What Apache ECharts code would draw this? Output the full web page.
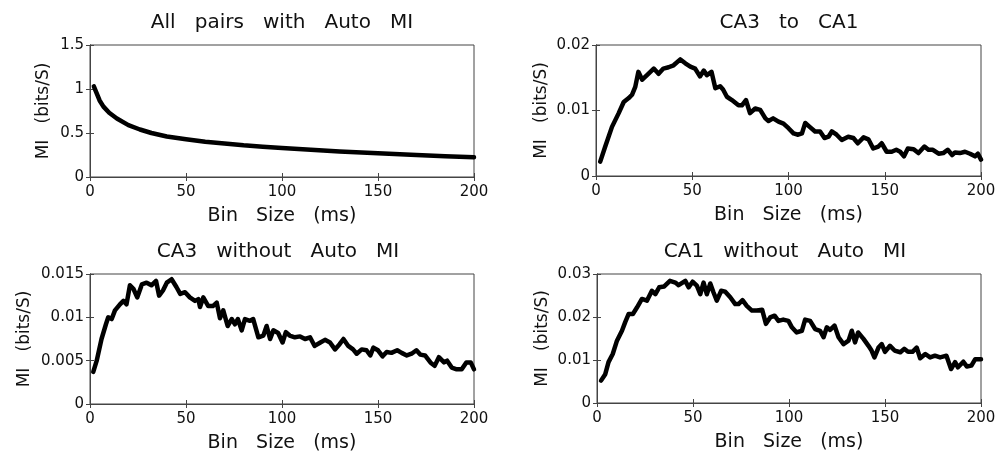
<!DOCTYPE html>
<html>
<head>
<meta charset="utf-8">
<script src="https://cdn.jsdelivr.net/npm/echarts@6/dist/echarts.min.js"></script>
<style>
  html, body { margin: 0; padding: 0; background: #fff; }
  #chart { width: 1005px; height: 458px; }
</style>
</head>
<body>
<div id="chart"></div>
<script>
// panel titles
var titles = ['All   pairs   with   Auto   MI', 'CA3   to   CA1', 'CA3   without   Auto   MI', 'CA1   without   Auto   MI'];

// All pairs with Auto MI
var allBins = [2, 3, 5, 7, 10, 14, 20, 26, 32, 40, 50, 60, 70, 80, 90, 100, 115, 130, 150, 170, 185, 200];
var allMi = [1.03, 1.05, 0.87, 0.80, 0.73, 0.665, 0.59, 0.54, 0.50, 0.46, 0.43, 0.40, 0.38, 0.36, 0.345, 0.33, 0.31, 0.29, 0.27, 0.25, 0.235, 0.225];

// CA3 to CA1
var ca3ca1Bins = [2.2, 4.8, 8.3, 11.8, 14.4, 17, 18.7, 20.4, 22, 24, 26.5, 30, 32.5, 35, 37.7, 40.3, 43.8, 46.4, 49, 51.5,
  54, 56, 57.6, 60, 62, 64.5, 66, 68, 70.6, 74, 75.8, 77.9, 80, 82.7, 85.3, 88, 89.6, 92, 94.8, 97.4,
  100, 102.6, 105, 107, 108.7, 111, 113.8, 116.4, 118.7, 120.8, 122.5, 125, 127.7, 131, 133.7, 136, 139, 141.5, 144, 146.7,
  148.4, 151, 153.6, 156, 158, 160, 162, 165, 167.5, 170.6, 172.7, 175, 178, 180.4, 182.7, 185, 186.5, 189, 191.7, 194.3,
  196.9, 198.4, 200];
var ca3ca1Mi = [0.0022, 0.0045, 0.0075, 0.0096, 0.0113, 0.0119, 0.0124, 0.0136, 0.0159, 0.0147, 0.0154, 0.0164, 0.0156, 0.0164, 0.0166, 0.0169, 0.0178, 0.0172, 0.0167, 0.0164,
  0.0152, 0.0161, 0.0154, 0.0159, 0.0134, 0.0137, 0.0132, 0.0121, 0.0116, 0.0108, 0.0108, 0.0116, 0.0096, 0.0103, 0.0101, 0.0088, 0.0084, 0.0088, 0.0083, 0.0080,
  0.0073, 0.0065, 0.0063, 0.0065, 0.0081, 0.0075, 0.0068, 0.0068, 0.0058, 0.0060, 0.0068, 0.0063, 0.0055, 0.0060, 0.0058, 0.0050, 0.0059, 0.0056, 0.0042, 0.0045,
  0.0050, 0.0037, 0.0037, 0.0040, 0.0037, 0.0030, 0.0042, 0.0041, 0.0035, 0.0045, 0.0040, 0.0040, 0.0034, 0.0035, 0.0040, 0.0032, 0.0036, 0.0035, 0.0037, 0.0034,
  0.0030, 0.0034, 0.0025];

// CA3 without Auto MI
var ca3Bins = [1.7, 3.5, 6, 8.3, 9.5, 11.3, 13, 15.6, 17.4, 19, 20.8, 22.6, 24.6, 27, 29.5, 32, 34.4, 36, 38, 40,
  42.5, 45, 47, 49.5, 52, 54.7, 56.4, 57.3, 59, 61.6, 64, 66, 67.7, 69.4, 71.7, 73.8, 75.5, 77, 79, 80.7,
  83.3, 85, 87.7, 90.3, 92, 93.8, 95.5, 98, 100.3, 102, 104, 106.7, 109.4, 112, 114.6, 117, 120, 122.4, 125, 127.6,
  130, 132, 134.5, 137, 138.9, 141.5, 144, 146, 147.6, 150, 152.4, 154.5, 157, 160, 162.3, 165, 167.5, 170, 172, 174.5,
  177.3, 179.5, 181.7, 184.4, 186, 188.4, 191, 193.6, 196, 198.3, 200];
var ca3Mi = [0.0037, 0.0050, 0.0075, 0.0092, 0.0100, 0.0098, 0.0108, 0.0115, 0.0119, 0.0115, 0.0137, 0.0133, 0.0123, 0.0138, 0.0140, 0.0137, 0.0142, 0.0125, 0.0131, 0.0140,
  0.0144, 0.0135, 0.0127, 0.0129, 0.0123, 0.0119, 0.0121, 0.0112, 0.0123, 0.0113, 0.0113, 0.0117, 0.0099, 0.0108, 0.0090, 0.0098, 0.0092, 0.0098, 0.0085, 0.0098,
  0.0096, 0.0098, 0.0077, 0.0079, 0.0090, 0.0075, 0.0085, 0.0082, 0.0071, 0.0083, 0.0079, 0.0077, 0.0078, 0.0075, 0.0077, 0.0067, 0.0071, 0.0074, 0.0071, 0.0063,
  0.0069, 0.0075, 0.0067, 0.0063, 0.0058, 0.0063, 0.0062, 0.0056, 0.0065, 0.0062, 0.0055, 0.0060, 0.0059, 0.0062, 0.0059, 0.0056, 0.0058, 0.0062, 0.0057, 0.0056,
  0.0048, 0.0044, 0.0054, 0.0048, 0.0050, 0.0042, 0.0040, 0.0040, 0.0048, 0.0048, 0.0040];

// CA1 without Auto MI
var ca1Bins = [2.1, 4.3, 6, 8.2, 10.4, 13, 14.7, 16.5, 18.7, 20.8, 23.4, 26, 28.6, 30.4, 32.4, 35, 38, 40.8, 42.5, 46,
  47.7, 49.8, 52, 53.8, 55.5, 57.2, 59, 60.7, 62.4, 64.7, 66.8, 69.4, 72, 73.7, 75.8, 78, 80.7, 83.3, 86, 88,
  90.2, 92.5, 94.5, 97, 99.7, 101.5, 104, 106.7, 108.4, 111, 113.6, 116.2, 118, 119.7, 121.4, 123.7, 125.8, 128.4, 131, 132.7,
  134.4, 136, 138.8, 141.4, 143, 144.5, 146.6, 148.3, 150, 152.6, 155, 158, 160, 162, 164.3, 166.5, 168.3, 171, 173.5, 176,
  178.7, 182, 184.4, 186.5, 188, 190.8, 192.6, 195, 197, 200];
var ca1Mi = [0.0052, 0.0067, 0.0095, 0.0114, 0.0145, 0.0168, 0.0188, 0.0207, 0.0207, 0.0222, 0.0242, 0.0238, 0.0261, 0.0253, 0.0269, 0.0271, 0.0284, 0.0280, 0.0274, 0.0284,
  0.0269, 0.0282, 0.0273, 0.0253, 0.0280, 0.0253, 0.0278, 0.0257, 0.0238, 0.0261, 0.0259, 0.0246, 0.0230, 0.0230, 0.0239, 0.0226, 0.0215, 0.0215, 0.0217, 0.0184,
  0.0199, 0.0203, 0.0191, 0.0194, 0.0191, 0.0176, 0.0164, 0.0168, 0.0194, 0.0191, 0.0172, 0.0168, 0.0153, 0.0176, 0.0170, 0.0180, 0.0153, 0.0137, 0.0145, 0.0168,
  0.0141, 0.0164, 0.0149, 0.0133, 0.0122, 0.0106, 0.0129, 0.0137, 0.0119, 0.0133, 0.0122, 0.0118, 0.0126, 0.0119, 0.0119, 0.0129, 0.0104, 0.0114, 0.0106, 0.0110,
  0.0106, 0.0110, 0.0079, 0.0095, 0.0083, 0.0096, 0.0085, 0.0087, 0.0102, 0.0102];

var yMax = [1.5, 0.02, 0.015, 0.03];
var yStep = [0.5, 0.01, 0.005, 0.01];

var binsList = [allBins, ca3ca1Bins, ca3Bins, ca1Bins];
var miList = [allMi, ca3ca1Mi, ca3Mi, ca1Mi];

var font = 'DejaVu Sans';
// plot boxes, title centre and y-name gap for each panel
var boxes = [
  { left: 90, top: 45, width: 384, height: 132, titleX: 277, yGap: 38 },
  { left: 596, top: 45, width: 385, height: 131, titleX: 784, yGap: 46 },
  { left: 90, top: 274, width: 384, height: 130, titleX: 273, yGap: 57 },
  { left: 597, top: 274, width: 384, height: 129, titleX: 780, yGap: 46 }
];

var grid = [], xAxis = [], yAxis = [], series = [], title = [];

boxes.forEach(function (b, i) {
  grid.push({ left: b.left, top: b.top, width: b.width, height: b.height, show: true, borderColor: '#444', borderWidth: 1, containLabel: false });
  title.push({
    text: titles[i],
    left: b.titleX,
    top: b.top - 37,
    textAlign: 'center',
    textStyle: { fontFamily: font, fontSize: 20, fontWeight: 'normal', color: '#111' }
  });
  var tick = { show: true, inside: true, length: 4, lineStyle: { color: '#444' } };
  var line = { show: true, lineStyle: { color: '#444', width: 1 } };
  xAxis.push({
    type: 'value', gridIndex: i, min: 0, max: 200, interval: 50, position: 'bottom',
    name: 'Bin   Size   (ms)', nameLocation: 'middle', nameGap: 30,
    nameTextStyle: { fontFamily: font, fontSize: 19, color: '#111' },
    axisLine: line, axisTick: tick, splitLine: { show: false },
    axisLabel: { fontFamily: font, fontSize: 15, color: '#111', margin: 8 }
  });
  xAxis.push({
    type: 'value', gridIndex: i, min: 0, max: 200, interval: 50, position: 'top',
    axisLine: line, axisTick: tick, splitLine: { show: false }, axisLabel: { show: false }
  });
  yAxis.push({
    type: 'value', gridIndex: i, min: 0, max: yMax[i], interval: yStep[i], position: 'left',
    name: 'MI   (bits/S)', nameLocation: 'middle', nameGap: b.yGap,
    nameTextStyle: { fontFamily: font, fontSize: 17, color: '#111' },
    axisLine: line, axisTick: tick, splitLine: { show: false },
    axisLabel: { fontFamily: font, fontSize: 15, color: '#111', margin: 6 }
  });
  yAxis.push({
    type: 'value', gridIndex: i, min: 0, max: yMax[i], interval: yStep[i], position: 'right',
    axisLine: line, axisTick: tick, splitLine: { show: false }, axisLabel: { show: false }
  });
  series.push({
    type: 'line',
    xAxisIndex: i * 2,
    yAxisIndex: i * 2,
    data: binsList[i].map(function (x, k) { return [x, miList[i][k]]; }),
    showSymbol: false,
    silent: true,
    lineStyle: { color: '#000', width: 4.5, join: 'round', cap: 'round' }
  });
});

var myChart = echarts.init(document.getElementById('chart'));
myChart.setOption({
  animation: false,
  backgroundColor: '#fff',
  title: title,
  grid: grid,
  xAxis: xAxis,
  yAxis: yAxis,
  series: series
});
</script>
</body>
</html>
